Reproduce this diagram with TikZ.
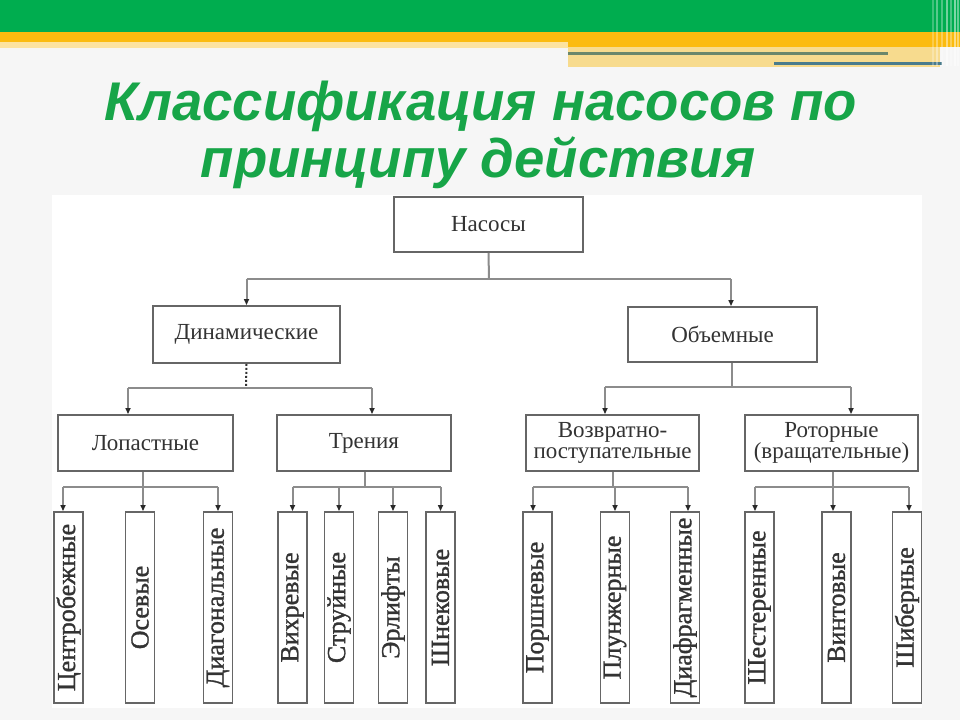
\documentclass[tikz,border=0pt]{standalone}
\usepackage{fontspec}
\setmainfont{Liberation Serif}
\newfontfamily\titlefont{Liberation Sans}
\newfontfamily\leaffont[FakeBold=1.2]{Liberation Serif}
\usetikzlibrary{arrows.meta}
\definecolor{bg}{HTML}{F6F6F6}
\definecolor{barGreen}{HTML}{00AD4F}
\definecolor{barOrange}{HTML}{FBBB0F}
\definecolor{barLight}{HTML}{FCE3A0}
\definecolor{barPale}{HTML}{F7DB8E}
\definecolor{lineOlive}{HTML}{6B876B}
\definecolor{lineBlue}{HTML}{4A7C8C}
\definecolor{titleGreen}{HTML}{17A548}
\definecolor{boxc}{HTML}{666666}
\definecolor{connc}{HTML}{8C8C8C}
\definecolor{txt}{HTML}{333333}
\begin{document}
\begin{tikzpicture}[x=1pt,y=-1pt,
  box/.style={draw=boxc, line width=1.9pt, fill=white, text=txt, inner sep=0pt,
    align=center, font=\fontsize{23}{21}\selectfont},
  leaf/.style={draw=boxc, line width=1.9pt, fill=white, text=txt, inner sep=0pt,
    minimum width=29pt, minimum height=191pt},
  leaftext/.style={rotate=90, text=txt, inner sep=0pt, font=\leaffont\fontsize{26}{26}\selectfont},
  conn/.style={draw=connc, line width=2pt},
  arr/.style={draw=connc, line width=2pt, -{Triangle[length=6pt,width=5pt,color=txt!80!black]}},
  dotc/.style={draw=txt, line width=2pt, dash pattern=on 2pt off 2pt},
  ttl/.style={text=titleGreen, anchor=base, inner sep=0pt,
    font=\titlefont\bfseries\itshape\fontsize{54.5}{60}\selectfont}
]
\useasboundingbox (0,0) rectangle (960,720);
% background
\fill[bg] (0,0) rectangle (960,720);
% top decorative bar
\fill[barGreen] (0,0) rectangle (960,32);
\fill[barOrange] (0,32) rectangle (568,42);
\fill[barLight] (0,42) rectangle (568,48);
\fill[barOrange] (568,32) rectangle (960,47);
\fill[barPale] (568,47) rectangle (940,67);
\fill[lineOlive] (568,51.5) rectangle (888,54.5);
\fill[lineBlue] (774,61.5) rectangle (942,64.5);
\foreach \xx/\op in {932/0.25,936/0.35,941/0.3,946/0.45,950/0.3,954/0.5,957/0.4}
  \fill[white, opacity=\op] (\xx,0) rectangle ++(1.5,66);
% title
\node[ttl] (title1) at (481,120) {Классификация насосов по};
\node[ttl] (title2) at (478,177) {принципу действия};
% white panel
\fill[white] (52,195) rectangle (922,708);

% level 0
\node[box, minimum width=189pt, minimum height=55pt] (nasosy) at (488.5,224.5) {Насосы};
% level 1
\node[box, minimum width=187pt, minimum height=57pt] (dyn) at (246.5,334.5) {Динамические};
\node[box, minimum width=189pt, minimum height=55pt] (obj) at (722.5,334.5) {Объемные};
% level 2
\node[box, minimum width=175pt, minimum height=56pt] (lop) at (145.5,443) {Лопастные};
\node[box, minimum width=174pt, minimum height=56pt] (tren) at (364,443) {Трения};
\node[box, minimum width=173pt, minimum height=56pt] (vozv) at (612.5,443) {Возвратно-\\поступательные};
\node[box, minimum width=173pt, minimum height=56pt] (rot) at (831.5,443) {Роторные\\(вращательные)};
% leaves
\foreach \nm/\xx/\tx in {c1/68.5/Центробежные, c2/140/Осевые, c3/218/Диагональные,
   t1/292.5/Вихревые, t2/339/Струйные, t3/393/Эрлифты, t4/440.5/Шнековые,
   v1/537.5/Поршневые, v2/615/Плунжерные, v3/685/Диафрагменные,
   r1/759.5/Шестеренные, r2/836.5/Винтовые, r3/907/Шиберные}{
  \node[leaf] (\nm) at (\xx,607.5) {};
  \node[leaftext] (\nm t) at (\nm.center) {\tx};
}

% connectors level 0 -> 1
\coordinate (bar0) at (489,279);
\draw[conn] (nasosy.south) -- (bar0);
\draw[conn] (dyn.north |- bar0) -- ([xshift=8.5pt]obj.north |- bar0);
\draw[arr] (dyn.north |- bar0) -- (dyn.north);
\draw[arr] ([xshift=8.5pt]obj.north |- bar0) -- ([xshift=8.5pt]obj.north);

% dyn -> lop, tren
\coordinate (bar1) at (246,388);
\draw[dotc] (dyn.south) -- (bar1);
\draw[conn] ([xshift=-17.5pt]lop.north |- bar1) -- ([xshift=8pt]tren.north |- bar1);
\draw[arr] ([xshift=-17.5pt]lop.north |- bar1) -- ([xshift=-17.5pt]lop.north);
\draw[arr] ([xshift=8pt]tren.north |- bar1) -- ([xshift=8pt]tren.north);

% obj -> vozv, rot
\coordinate (bar2) at (731.5,387);
\draw[conn] ([xshift=9pt]obj.south) -- (bar2);
\draw[conn] ([xshift=-7.5pt]vozv.north |- bar2) -- ([xshift=19.5pt]rot.north |- bar2);
\draw[arr] ([xshift=-7.5pt]vozv.north |- bar2) -- ([xshift=-7.5pt]vozv.north);
\draw[arr] ([xshift=19.5pt]rot.north |- bar2) -- ([xshift=19.5pt]rot.north);

% lop -> leaves
\coordinate (bl) at (143,487);
\draw[conn] ([xshift=-2.5pt]lop.south) -- (bl);
\draw[conn] ([xshift=-5.5pt]c1.north |- bl) -- (c3.north |- bl);
\draw[arr] ([xshift=-5.5pt]c1.north |- bl) -- ([xshift=-5.5pt]c1.north);
\draw[arr] ([xshift=3pt]c2.north |- bl) -- ([xshift=3pt]c2.north);
\draw[arr] (c3.north |- bl) -- (c3.north);

% tren -> leaves
\coordinate (bt) at (365,487);
\draw[conn] ([xshift=1pt]tren.south) -- (bt);
\draw[conn] (t1.north |- bt) -- (t4.north |- bt);
\foreach \nm in {t1,t2,t3,t4}
  \draw[arr] (\nm.north |- bt) -- (\nm.north);

% vozv -> leaves
\coordinate (bv) at (613,487);
\draw[conn] ([xshift=0.5pt]vozv.south) -- (bv);
\draw[conn] ([xshift=-4.5pt]v1.north |- bv) -- ([xshift=3pt]v3.north |- bv);
\draw[arr] ([xshift=-4.5pt]v1.north |- bv) -- ([xshift=-4.5pt]v1.north);
\draw[arr] (v2.north |- bv) -- (v2.north);
\draw[arr] ([xshift=3pt]v3.north |- bv) -- ([xshift=3pt]v3.north);

% rot -> leaves
\coordinate (br) at (833,487);
\draw[conn] ([xshift=1.5pt]rot.south) -- (br);
\draw[conn] ([xshift=-4.5pt]r1.north |- br) -- ([xshift=2pt]r3.north |- br);
\draw[arr] ([xshift=-4.5pt]r1.north |- br) -- ([xshift=-4.5pt]r1.north);
\draw[arr] ([xshift=-3.5pt]r2.north |- br) -- ([xshift=-3.5pt]r2.north);
\draw[arr] ([xshift=2pt]r3.north |- br) -- ([xshift=2pt]r3.north);
\end{tikzpicture}
\end{document}
